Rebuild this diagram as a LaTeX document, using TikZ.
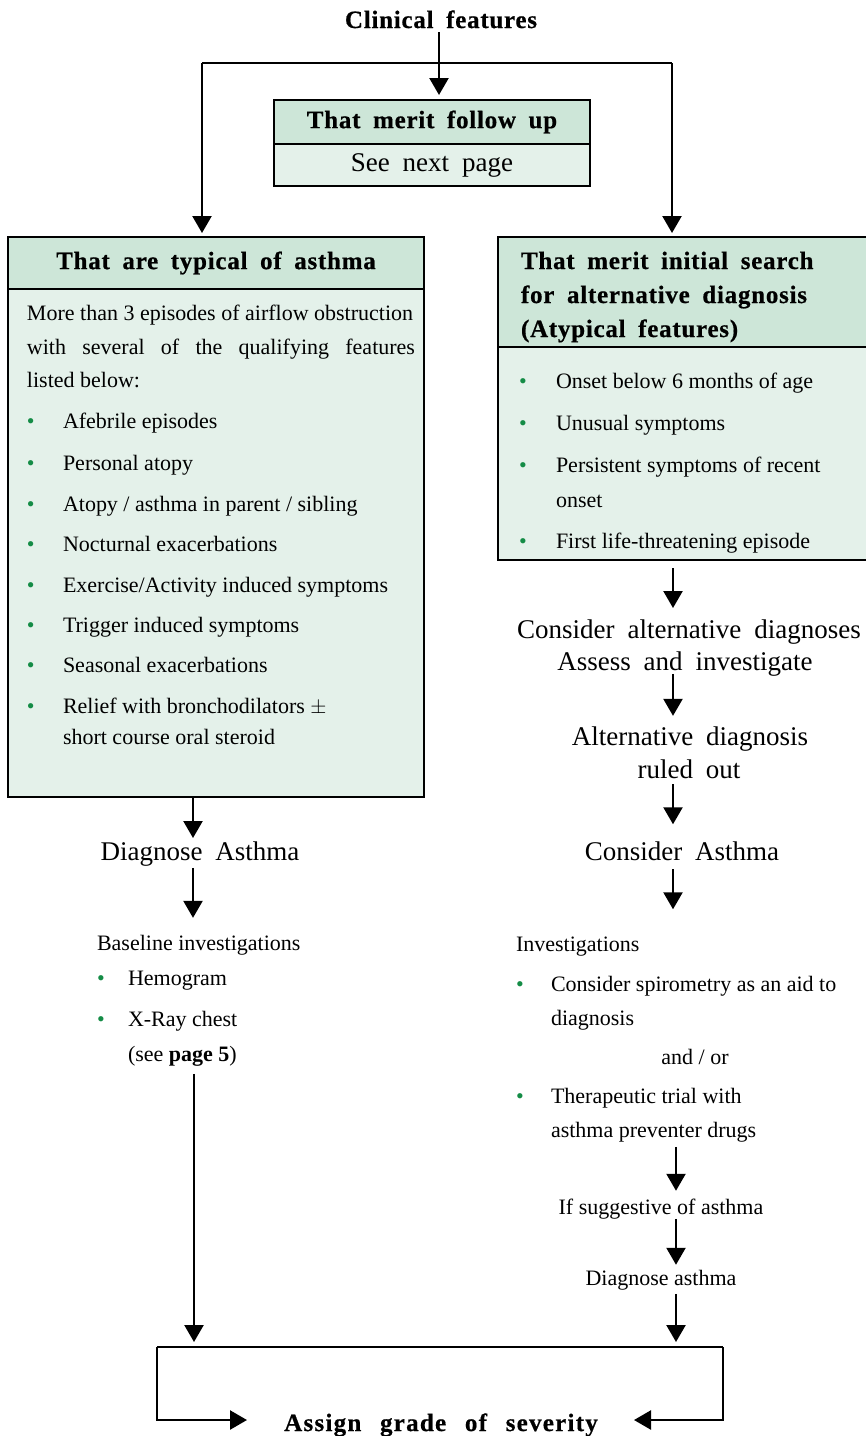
\documentclass[tikz,border=0pt]{standalone}
\usepackage{fontspec}
\setmainfont{Liberation Serif}
\newfontfamily\hdfont[LetterSpace=3,WordSpace=1.8,BoldFeatures={FakeBold=0.6}]{Liberation Serif}
\newfontfamily\hdwfont[LetterSpace=5,WordSpace=2.5,BoldFeatures={FakeBold=0.6}]{Liberation Serif}
\newfontfamily\wdfont[WordSpace=1.9]{Liberation Serif}
\usetikzlibrary{arrows.meta}
\definecolor{hdrc}{RGB}{205,230,216}
\definecolor{bodyc}{RGB}{228,241,234}
\definecolor{bulg}{RGB}{20,140,70}
\newcommand{\gbul}[1]{\makebox[#1][l]{\textcolor{bulg}{\textbullet}}}
\begin{document}
\begin{tikzpicture}[x=1pt,y=-1pt,
  every node/.style={inner sep=0pt,outer sep=0pt},
  boxline/.style={draw=black,line width=2.4pt},
  hdrbox/.style={boxline,fill=hdrc,rectangle},
  bodybox/.style={boxline,fill=bodyc,rectangle},
  conn/.style={line width=2.4pt},
  arr/.style={conn,-{Triangle[width=19pt,length=17pt]}},
  ttl/.style={font=\hdfont\bfseries\fontsize{25}{30}\selectfont},
  big/.style={font=\wdfont\fontsize{27}{32}\selectfont, anchor=base},
  txt/.style={font=\fontsize{22}{32}\selectfont, anchor=base west},
  ctxt/.style={font=\fontsize{22}{32}\selectfont, anchor=base},
]
\useasboundingbox (0,0) rectangle (866,1436);

% top
\node[ttl, anchor=base] (cf) at (441,28) {Clinical features};
\node[bodybox, minimum width=316pt, minimum height=42pt, font=\wdfont\fontsize{27}{32}\selectfont] (fub) at (432,165) {See next page};
\node[hdrbox, ttl, minimum width=316pt, minimum height=44pt] (fuh) at (432,122) {That merit follow up};

% left box
\node[bodybox, minimum width=416pt, minimum height=508pt] (lb) at (216,543) {};
\node[hdrbox, ttl, minimum width=416pt, minimum height=52pt] (lh) at (216,263) {That are typical of asthma};

% right box
\node[bodybox, minimum width=382pt, minimum height=213pt] (rb) at (689,453.5) {};
\node[hdrbox, minimum width=382pt, minimum height=110pt] (rh) at (689,292) {};
\node[ttl, anchor=base west] (rh1) at (521,269) {That merit initial search};
\node[ttl, anchor=base west] (rh2) at (521,303) {for alternative diagnosis};
\node[ttl, anchor=base west] (rh3) at (521,337) {(Atypical features)};

% left box text
\node[txt] (t1) at (27,320) {More than 3 episodes of airflow obstruction};
\node[txt] (t2) at (27,354) {\makebox[388pt][s]{with several of the qualifying features}};
\node[txt] (t3) at (27,387) {listed below:};
\node[txt] (i1) at (27,428) {\gbul{36pt}Afebrile episodes};
\node[txt] (i2) at (27,470) {\gbul{36pt}Personal atopy};
\node[txt] (i3) at (27,511) {\gbul{36pt}Atopy / asthma in parent / sibling};
\node[txt] (i4) at (27,551) {\gbul{36pt}Nocturnal exacerbations};
\node[txt] (i5) at (27,592) {\gbul{36pt}Exercise/Activity induced symptoms};
\node[txt] (i6) at (27,632) {\gbul{36pt}Trigger induced symptoms};
\node[txt] (i7) at (27,672) {\gbul{36pt}Seasonal exacerbations};
\node[txt] (i8) at (27,713) {\gbul{36pt}Relief with bronchodilators $\pm$};
\node[txt] (i8b) at (63,744) {short course oral steroid};

% right box text
\node[txt] (r1) at (519,388) {\gbul{37pt}Onset below 6 months of age};
\node[txt] (r2) at (519,430) {\gbul{37pt}Unusual symptoms};
\node[txt] (r3) at (519,472) {\gbul{37pt}Persistent symptoms of recent};
\node[txt] (r3b) at (556,507) {onset};
\node[txt] (r4) at (519,548) {\gbul{37pt}First life-threatening episode};

% left column
\node[big] (da) at (200,860) {Diagnose Asthma};
\node[txt] (bi) at (97,950) {Baseline investigations};
\node[txt] (hg) at (97,985) {\gbul{31pt}Hemogram};
\node[txt] (xr) at (97,1026) {\gbul{31pt}X-Ray chest};
\node[txt] (sp) at (128,1061) {(see \textbf{page 5})};

% right column
\node[big] (ca1) at (689,638) {Consider alternative diagnoses};
\node[big] (ca2) at (685,670) {Assess and investigate};
\node[big] (ad1) at (690,745) {Alternative diagnosis};
\node[big] (ad2) at (689,778) {ruled out};
\node[big] (cA) at (682,860) {Consider Asthma};
\node[txt] (inv) at (516,951) {Investigations};
\node[txt] (s1) at (516,991) {\gbul{35pt}Consider spirometry as an aid to};
\node[txt] (s1b) at (551,1025) {diagnosis};
\node[ctxt] (ao) at (695,1064) {and / or};
\node[txt] (s2) at (516,1103) {\gbul{35pt}Therapeutic trial with};
\node[txt] (s2b) at (551,1137) {asthma preventer drugs};
\node[ctxt] (ifs) at (661,1214) {If suggestive of asthma};
\node[ctxt] (dga) at (661,1285) {Diagnose asthma};

% bottom
\node[font=\hdwfont\bfseries\fontsize{25}{30}\selectfont, anchor=base] (ag) at (441,1431) {Assign grade of severity};

% coordinates
\coordinate (sl) at (202,63);
\coordinate (sr) at (672,63);
\coordinate (xc) at (439,0);
\coordinate (xl) at (193,0);
\coordinate (xl2) at (194,0);
\coordinate (xr) at (673,0);
\coordinate (xr2) at (676,0);
\coordinate (bl) at (157,1347);
\coordinate (br) at (723,1347);
\coordinate (bll) at (157,1420);
\coordinate (brr) at (723,1420);
\coordinate (tipl) at (247,1420);
\coordinate (tipr) at (634,1420);

% connectors
\draw[arr, shorten >=5pt] (cf.south -| xc) ++(0,4) -- (fuh.north -| xc);
\draw[conn] (sl) -- (sr);
\draw[arr, shorten >=4pt] (sl) -- (sl |- lh.north);
\draw[arr, shorten >=4pt] (sr) -- (sr |- rh.north);

\draw[arr] (lb.south -| xl) -- ++(0,41);
\draw[arr] (da.south -| xl) ++(0,2) -- ++(0,50);
\draw[arr, shorten >=5pt] (sp.south -| xl2) ++(0,8) -- (bl -| xl2);

\draw[arr] (rb.south -| xr) ++(0,8) -- ++(0,40);
\draw[arr] (ca2.south -| xr) ++(0,-2) -- ++(0,42);
\draw[arr] (ad2.south -| xr) ++(0,6) -- ++(0,40);
\draw[arr] (cA.south -| xr) ++(0,9) -- ++(0,40);
\draw[arr] (s2b.south -| xr2) ++(0,5) -- ++(0,44);
\draw[arr] (ifs.south -| xr2) ++(0,0) -- ++(0,46);
\draw[arr, shorten >=5pt] (dga.south -| xr2) ++(0,4) -- (br -| xr2);

\draw[conn] (bl) -- (br);
\draw[arr] (bl) -- (bll) -- (tipl);
\draw[arr] (br) -- (brr) -- (tipr);
\end{tikzpicture}
\end{document}
